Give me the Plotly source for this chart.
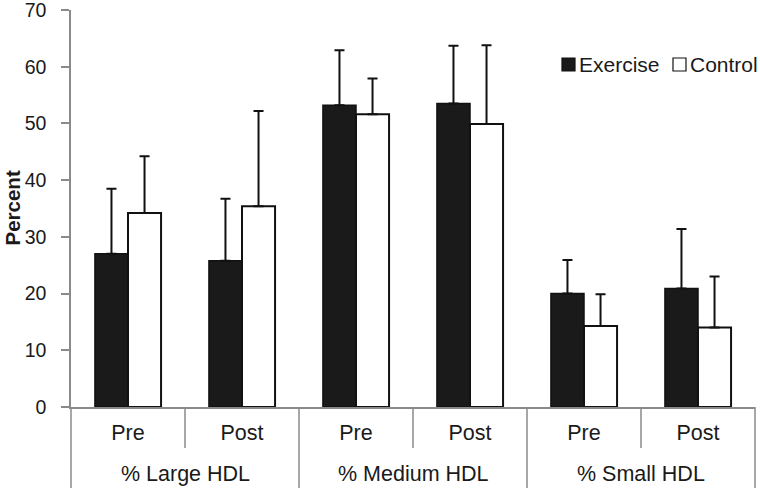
import plotly.graph_objects as go

# ---- data ----
groups = ["% Large HDL", "% Medium HDL", "% Small HDL"]
phases = ["Pre", "Post"]
exercise_mean = [27.0, 25.8, 53.2, 53.5, 20.0, 20.9]
exercise_sd = [11.5, 10.9, 9.7, 10.2, 5.9, 10.5]
control_mean = [34.2, 35.4, 51.6, 49.9, 14.3, 14.0]
control_sd = [10.0, 16.8, 6.3, 13.9, 5.6, 9.0]
y_ticks = [0, 10, 20, 30, 40, 50, 60, 70]
series_names = ["Exercise", "Control"]
y_title = "Percent"

# ---- layout constants ----
W, H = 760, 488
ML, MR, MT, MB = 71, 5, 10, 81
PW, PH = W - ML - MR, H - MT - MB
FONT = "Liberation Sans, Arial, sans-serif"
AXIS_COLOR = "#8a8a8a"
TXT = "#1a1a1a"

n_cat = len(groups) * len(phases)
xs = list(range(n_cat))
tick_text = [p for g in groups for p in phases]

fig = go.Figure()
fig.add_trace(go.Bar(
    x=xs, y=exercise_mean, name=series_names[0],
    marker=dict(color="#1a1a1a", line=dict(color="#111111", width=1.5)),
    error_y=dict(type="data", symmetric=False, array=exercise_sd,
                 arrayminus=[0] * n_cat, color="#111111", thickness=2, width=5),
    showlegend=False,
))
fig.add_trace(go.Bar(
    x=xs, y=control_mean, name=series_names[1],
    marker=dict(color="#ffffff", line=dict(color="#111111", width=2)),
    error_y=dict(type="data", symmetric=False, array=control_sd,
                 arrayminus=[0] * n_cat, color="#111111", thickness=2, width=5),
    showlegend=False,
))

def px_to_paper_x(px):
    return (px - ML) / PW

def px_to_paper_y(py):
    return (H - MB - py) / PH

shapes = []
# category separators
for k in range(n_cat + 1):
    depth = 81 if k % 2 == 0 else 41
    shapes.append(dict(type="line", xref="paper", yref="paper",
                       x0=k / n_cat, x1=k / n_cat, y0=0, y1=-depth / PH,
                       line=dict(color=AXIS_COLOR, width=1.5)))

# manual legend
leg_items = [(562, "#1a1a1a"), (673, "#ffffff")]
for (lx, col) in leg_items:
    shapes.append(dict(type="rect", xref="paper", yref="paper",
                       x0=px_to_paper_x(lx), x1=px_to_paper_x(lx + 13),
                       y0=px_to_paper_y(71), y1=px_to_paper_y(58),
                       fillcolor=col, line=dict(color="#111111", width=1.2)))

annotations = []
for gi, g in enumerate(groups):
    annotations.append(dict(
        text=g, xref="paper", yref="paper",
        x=(gi * 2 + 1) / n_cat, y=0, yanchor="middle", xanchor="center",
        yshift=-67, showarrow=False,
        font=dict(family=FONT, size=21.5, color=TXT)))
for (lx, name) in zip([577, 688], series_names):
    annotations.append(dict(
        text=name, xref="paper", yref="paper",
        x=px_to_paper_x(lx), y=px_to_paper_y(64), xanchor="left",
        yanchor="middle", showarrow=False,
        font=dict(family=FONT, size=21, color=TXT)))
annotations.append(dict(
    text="<b>" + y_title + "</b>", xref="paper", yref="paper",
    x=px_to_paper_x(12), y=0.5, xanchor="center", yanchor="middle",
    textangle=-90, showarrow=False,
    font=dict(family=FONT, size=20.5, color=TXT)))

fig.update_layout(
    width=W, height=H,
    margin=dict(l=ML, r=MR, t=MT, b=MB, autoexpand=False),
    paper_bgcolor="white", plot_bgcolor="white",
    barmode="group", bargap=0.42, bargroupgap=0,
    showlegend=False,
    shapes=shapes, annotations=annotations,
    xaxis=dict(
        range=[-0.5, n_cat - 0.5], tickvals=xs, ticktext=tick_text,
        showline=True, linecolor=AXIS_COLOR, linewidth=1.5,
        ticks="", showgrid=False, zeroline=False, automargin=False,
        tickfont=dict(family=FONT, size=21.5, color=TXT),
        ticklabelstandoff=5,
    ),
    yaxis=dict(
        range=[0, 70], tickvals=y_ticks, ticks="outside", ticklen=8,
        tickcolor=AXIS_COLOR, tickwidth=1.5,
        showline=True, linecolor=AXIS_COLOR, linewidth=1.5,
        showgrid=False, zeroline=False, automargin=False,
        tickfont=dict(family=FONT, size=19.5, color=TXT),
        ticklabelstandoff=11, ticklabeloverflow="allow",
    ),
)

fig.write_html(
    "out.html",
    config={"displayModeBar": False},
    post_script="document.body.style.margin='0';document.body.style.padding='0';",
)
